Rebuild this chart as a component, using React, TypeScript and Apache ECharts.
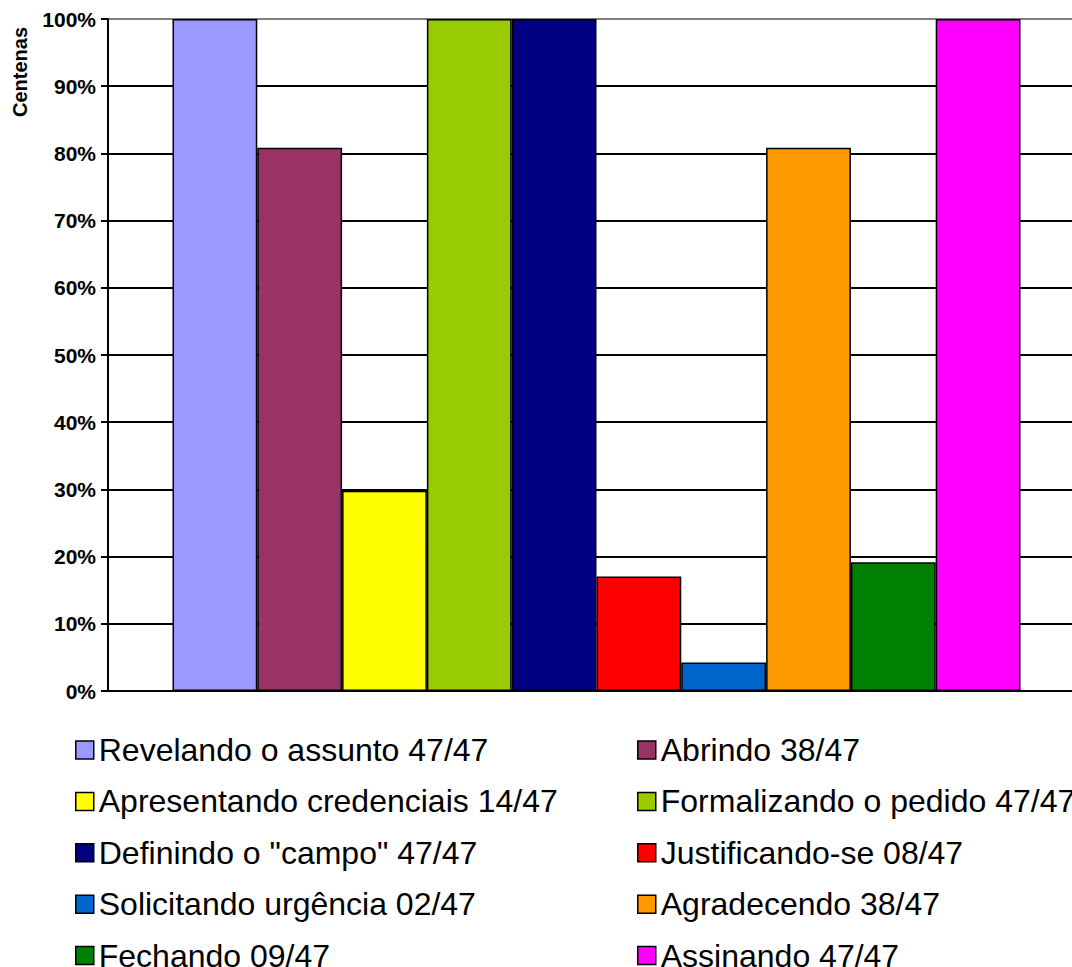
import React, { useEffect, useRef } from "react";
import * as echarts from "echarts";

const TOTAL = 47;
const seriesNames = [
  "Revelando o assunto 47/47",
  "Abrindo 38/47",
  "Apresentando credenciais 14/47",
  "Formalizando o pedido 47/47",
  'Definindo o "campo" 47/47',
  "Justificando-se 08/47",
  "Solicitando urgência 02/47",
  "Agradecendo 38/47",
  "Fechando 09/47",
  "Assinando 47/47",
];
const counts = [47, 38, 14, 47, 47, 8, 2, 38, 9, 47];
const colors = [
  "#9999FF", "#993366", "#FFFF00", "#99CC00", "#000080",
  "#FF0000", "#0066CC", "#FF9900", "#008000", "#FF00FF",
];
const yTicks = [0, 10, 20, 30, 40, 50, 60, 70, 80, 90, 100];
const FONT = "'Liberation Sans', Arial, sans-serif";

export default function App() {
  const ref = useRef<HTMLDivElement>(null);
  useEffect(() => {
    if (!ref.current) return;
    const chart = echarts.init(ref.current, undefined, { renderer: "svg" });
    const splitColors = yTicks.map((t) => (t === 100 ? "#808080" : "#000000"));
    const legendBase = {
      type: "plain" as const,
      orient: "vertical" as const,
      top: 729,
      height: 400,
      itemWidth: 18,
      itemHeight: 18,
      itemGap: 19.4,
      itemTextGap: 11,
      icon: "rect",
      itemStyle: { borderColor: "#000", borderWidth: 1.5 },
      textStyle: { fontFamily: FONT, fontSize: 32, color: "#000" },
      selectedMode: false,
    };
    chart.setOption({
      animation: false,
      backgroundColor: "#fff",
      grid: { left: 108, top: 19, right: 15, bottom: 276, containLabel: false },
      xAxis: {
        type: "category",
        data: [""],
        axisLine: { show: true, lineStyle: { color: "#000", width: 2 } },
        axisTick: { show: false },
        axisLabel: { show: false },
        splitLine: { show: false },
      },
      yAxis: {
        type: "value",
        min: 0,
        max: 100,
        interval: 10,
        axisLine: { show: true, lineStyle: { color: "#000", width: 2 } },
        axisTick: { show: true, length: 7, lineStyle: { color: "#000", width: 2 } },
        axisLabel: {
          formatter: "{value}%",
          fontFamily: FONT,
          fontWeight: "bold",
          fontSize: 21,
          color: "#000",
          margin: 12,
        },
        splitLine: { show: true, lineStyle: { color: splitColors, width: 2 } },
      },
      legend: [
        { ...legendBase, left: 70, data: seriesNames.filter((_, i) => i % 2 === 0) },
        { ...legendBase, left: 632, data: seriesNames.filter((_, i) => i % 2 === 1) },
      ],
      graphic: [
        {
          type: "text",
          x: 20,
          y: 72,
          rotation: Math.PI / 2,
          style: {
            text: "Centenas",
            fontFamily: FONT,
            fontWeight: "bold",
            fontSize: 20,
            fill: "#000",
            align: "center",
            verticalAlign: "middle",
          },
        },
      ],
      series: seriesNames.map((name, i) => ({
        name,
        type: "bar",
        data: [(counts[i] / TOTAL) * 100],
        barWidth: 84.8,
        barGap: "0%",
        itemStyle: { color: colors[i], borderColor: "#000", borderWidth: 1.5 },
      })),
    });
    return () => chart.dispose();
  }, []);
  return (
    <div
      style={{
        position: "absolute",
        left: 0,
        top: 0,
        width: 1072,
        height: 967,
        overflow: "hidden",
        background: "#fff",
      }}
    >
      <div ref={ref} style={{ width: 1100, height: 967 }} />
    </div>
  );
}
